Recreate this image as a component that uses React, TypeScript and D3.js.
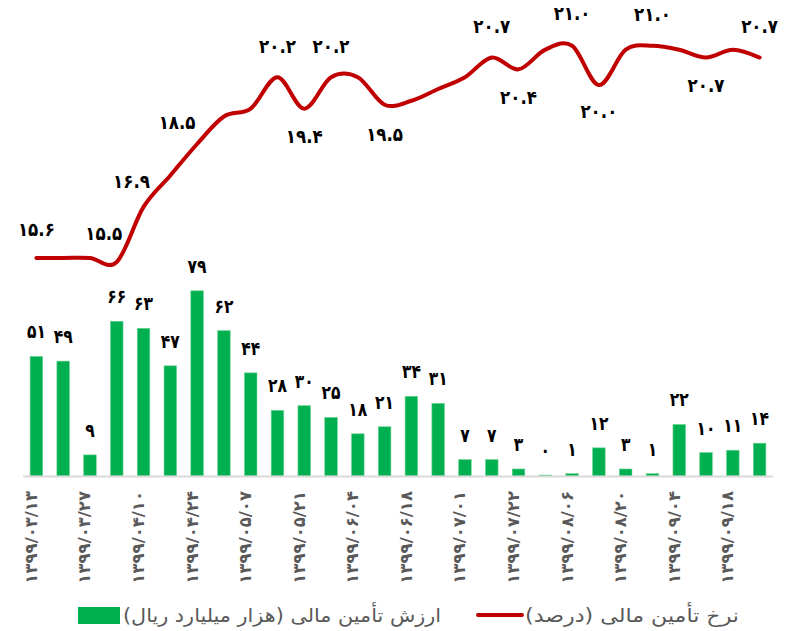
import React from "react";
import * as d3 from "d3";

// ---- data ----
const tickDates = [
  "1399/03/13", "1399/03/27", "1399/04/10", "1399/04/24", "1399/05/07",
  "1399/05/21", "1399/06/04", "1399/06/18", "1399/07/01", "1399/07/22",
  "1399/08/06", "1399/08/20", "1399/09/04", "1399/09/18",
];
const financeValues = [51, 49, 9, 66, 63, 47, 79, 62, 44, 28, 30, 25, 18, 21, 34, 31, 7, 7, 3, 0.4, 1, 12, 3, 1, 22, 10, 11, 14];
const rateValues = [15.6, 15.6, 15.6, 15.5, 16.9, 17.7, 18.5, 19.2, 19.4, 20.2, 19.4, 20.2, 20.2, 19.5, 19.6, 19.9, 20.2, 20.7, 20.4, 20.9, 21.0, 20.0, 20.9, 21.0, 20.9, 20.7, 20.9, 20.7];
const rateLabelIdx = [0, 3, 4, 6, 9, 10, 11, 13, 17, 18, 20, 21, 23, 25, 27];
const legendBar = "ارزش تأمین مالی (هزار میلیارد ریال)";
const legendLine = "نرخ تأمین مالی (درصد)";

// ---- label placement (style) ----
const ratePlace: Record<number, [number, number]> = {
  0: [0, -22], 3: [-13, -22], 4: [-12, -19], 6: [-20, -15],
  9: [0, -24], 10: [0, 34], 11: [0, -24], 13: [0, 36],
  17: [0, -25], 18: [0, 35], 20: [0, -26], 21: [0, 33],
  23: [0, -25], 25: [0, 34], 27: [0, -25],
};

const W = 793, H = 631;
const FONT = "'DejaVu Sans', sans-serif";
const fa = (s: string) => s.replace(/\d/g, (d) => "۰۱۲۳۴۵۶۷۸۹"[+d]);
const RLM = "\u200F";

export default function App() {
  const idx = financeValues.map((_, i) => i);
  const x = d3.scaleBand<number>().domain(idx).range([23, 773]).padding(0);
  const cx = (i: number) => (x(i) as number) + x.bandwidth() / 2;
  const baseY = 476;
  const yBar = d3.scaleLinear().domain([0, 90]).range([baseY, 265]);
  const yRate = d3.scaleLinear().domain([15, 21.5]).range([281.6, 26.1]);
  const barW = x.bandwidth() * 0.47;

  const line = d3
    .line<number>()
    .x((_, i) => cx(i))
    .y((v) => yRate(v))
    .curve(d3.curveCardinal.tension(0));

  return (
    <svg
      width={W}
      height={H}
      style={{ position: "absolute", left: 0, top: 0, background: "#fff" }}
      fontFamily={FONT}
    >
      {/* bars */}
      {financeValues.map((v, i) => (
        <rect
          key={"b" + i}
          x={cx(i) - barW / 2}
          y={yBar(v)}
          width={barW}
          height={baseY - yBar(v)}
          fill="#00B050"
          stroke="#6FD494"
          strokeWidth={0.6}
        />
      ))}
      {/* bar labels */}
      {financeValues.map((v, i) => (
        <text
          key={"bl" + i}
          transform={`translate(${cx(i)},${yBar(v) - 18}) scale(0.82,1)`}
          textAnchor="middle"
          fontSize={19}
          fontWeight="bold"
          fill="#000"
        >
          {fa(d3.format(".0f")(v))}
        </text>
      ))}
      {/* axis */}
      <line x1={23} x2={773} y1={baseY + 0.5} y2={baseY + 0.5} stroke="#D9D9D9" strokeWidth={2} />
      {/* date ticks */}
      {tickDates.map((d, k) => {
        const i = k * 2;
        return (
          <text
            key={"d" + k}
            transform={`translate(${cx(i) - 5},491) rotate(-90)`}
            textAnchor="end"
            dominantBaseline="central"
            fontSize={16.5}
            fontWeight="bold"
            fill="#595959"
          >
            {fa(d)}
          </text>
        );
      })}
      {/* line */}
      <path d={line(rateValues) || ""} fill="none" stroke="#C00000" strokeWidth={4} strokeLinecap="round" />
      {/* line labels */}
      {rateLabelIdx.map((i) => {
        const [dx, dy] = ratePlace[i] || [0, -24];
        return (
          <text
            key={"rl" + i}
            transform={`translate(${cx(i) + dx},${yRate(rateValues[i]) + dy}) scale(0.88,1)`}
            textAnchor="middle"
            fontSize={19}
            fontWeight="bold"
            fill="#000"
          >
            {fa(d3.format(".1f")(rateValues[i]))}
          </text>
        );
      })}
      {/* legend */}
      <rect x={78} y={607} width={42} height={17} fill="#00B050" />
      <text x={123} y={622} fontSize={19} fill="#595959" textLength={318} lengthAdjust="spacingAndGlyphs">
        {RLM + legendBar + RLM}
      </text>
      <line x1={478} x2={522} y1={615} y2={615} stroke="#C00000" strokeWidth={4} strokeLinecap="round" />
      <text x={525} y={622} fontSize={19} fill="#595959" textLength={214} lengthAdjust="spacingAndGlyphs">
        {RLM + legendLine + RLM}
      </text>
    </svg>
  );
}
